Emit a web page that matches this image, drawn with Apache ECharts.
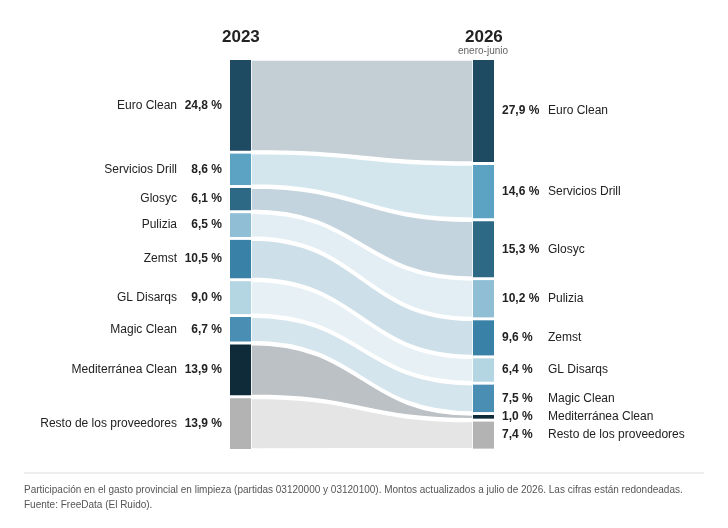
<!DOCTYPE html>
<html>
<head>
<meta charset="utf-8">
<script src="https://cdn.jsdelivr.net/npm/echarts@6/dist/echarts.min.js"></script>
<style>
  html, body { margin: 0; padding: 0; background: #fff; }
  #chart { width: 728px; height: 528px; }
</style>
</head>
<body>
<div id="chart"></div>
<script>
// proveedores y participación (%)
const names = ['Euro Clean', 'Servicios Drill', 'Glosyc', 'Pulizia', 'Zemst', 'GL Disarqs', 'Magic Clean', 'Mediterránea Clean', 'Resto de los proveedores'];
const values2023 = [24.8, 8.6, 6.1, 6.5, 10.5, 9.0, 6.7, 13.9, 13.9];
const values2026 = [27.9, 14.6, 15.3, 10.2, 9.6, 6.4, 7.5, 1.0, 7.4];
const barColors = ['#1e4a62', '#5ca2c3', '#2d6985', '#8fbed5', '#3a81a7', '#b4d5e2', '#4a8eb4', '#0f2a39', '#b3b3b3'];
const bandColors = ['#c3ced5', '#d3e6ee', '#c4d4de', '#e2eef4', '#cddfe9', '#e7f1f5', '#d5e5ed', '#bcc1c5', '#e5e5e5'];

const GAP = 0.8;
function starts(vals) {
    const out = [];
    let acc = 0;
    vals.forEach(v => { out.push(acc); acc += v + GAP; });
    return out;
}
const start2023 = starts(values2023);
const start2026 = starts(values2026);
const fmt = v => v.toFixed(1).replace('.', ',') + ' %';

const chart = echarts.init(document.getElementById('chart'));
const BAR_W = 21;

function renderItem(params, api) {
    const i = api.value(0);
    const l0 = api.coord([0, start2023[i]]);
    const l1 = api.coord([0, start2023[i] + values2023[i]]);
    const r0 = api.coord([1, start2026[i]]);
    const r1 = api.coord([1, start2026[i] + values2026[i]]);
    const xl = l0[0] + BAR_W, xr = r0[0] - BAR_W, xm = (xl + xr) / 2;
    const path = `M${xl},${l0[1]} C${xm},${l0[1]} ${xm},${r0[1]} ${xr},${r0[1]} L${xr},${r1[1]} C${xm},${r1[1]} ${xm},${l1[1]} ${xl},${l1[1]} Z`;
    const lc = (l0[1] + l1[1]) / 2, rc = (r0[1] + r1[1]) / 2;
    const txt = { fontFamily: 'Liberation Sans, Arial', fontSize: 12, fill: '#222', verticalAlign: 'middle' };
    return {
        type: 'group',
        children: [
            { type: 'path', shape: { pathData: path }, style: { fill: bandColors[i], stroke: '#fff', lineWidth: 1.5 } },
            { type: 'rect', shape: { x: l0[0], y: l0[1], width: BAR_W, height: l1[1] - l0[1] }, style: { fill: barColors[i] } },
            { type: 'rect', shape: { x: r0[0] - BAR_W, y: r0[1], width: BAR_W, height: r1[1] - r0[1] }, style: { fill: barColors[i] } },
            { type: 'text', x: l0[0] - 8, y: lc, style: Object.assign({}, txt, { text: fmt(values2023[i]), align: 'right', fontWeight: 'bold' }) },
            { type: 'text', x: l0[0] - 53, y: lc, style: Object.assign({}, txt, { text: names[i], align: 'right' }) },
            { type: 'text', x: r0[0] + 8, y: rc, style: Object.assign({}, txt, { text: fmt(values2026[i]), align: 'left', fontWeight: 'bold' }) },
            { type: 'text', x: r0[0] + 54, y: rc, style: Object.assign({}, txt, { text: names[i], align: 'left' }) }
        ]
    };
}

const option = {
    animation: false,
    grid: { left: 230, right: 234, top: 60, bottom: 79 },
    xAxis: { type: 'value', min: 0, max: 1, show: false },
    yAxis: { type: 'value', min: 0, max: 100 + 8 * GAP, inverse: true, show: false },
    graphic: [
        { type: 'text', left: 222, top: 29, style: { text: '2023', fontFamily: 'Liberation Sans, Arial', fontSize: 17, fontWeight: 'bold', fill: '#222' } },
        { type: 'text', left: 465, top: 29, style: { text: '2026', fontFamily: 'Liberation Sans, Arial', fontSize: 17, fontWeight: 'bold', fill: '#222' } },
        { type: 'text', left: 458, top: 46, style: { text: 'enero-junio', fontFamily: 'Liberation Sans, Arial', fontSize: 10, fill: '#666' } },
        { type: 'line', shape: { x1: 24, y1: 473, x2: 704, y2: 473 }, style: { stroke: '#ddd', lineWidth: 1 } },
        { type: 'text', left: 24, top: 485, style: { text: 'Participación en el gasto provincial en limpieza (partidas 03120000 y 03120100). Montos actualizados a julio de 2026. Las cifras están redondeadas.', fontFamily: 'Liberation Sans, Arial', fontSize: 10, fill: '#555' } },
        { type: 'text', left: 24, top: 500, style: { text: 'Fuente: FreeData (El Ruido).', fontFamily: 'Liberation Sans, Arial', fontSize: 10, fill: '#555' } }
    ],
    series: [{
        type: 'custom',
        renderItem: renderItem,
        data: names.map((n, i) => [i])
    }]
};

chart.setOption(option);
</script>
</body>
</html>
